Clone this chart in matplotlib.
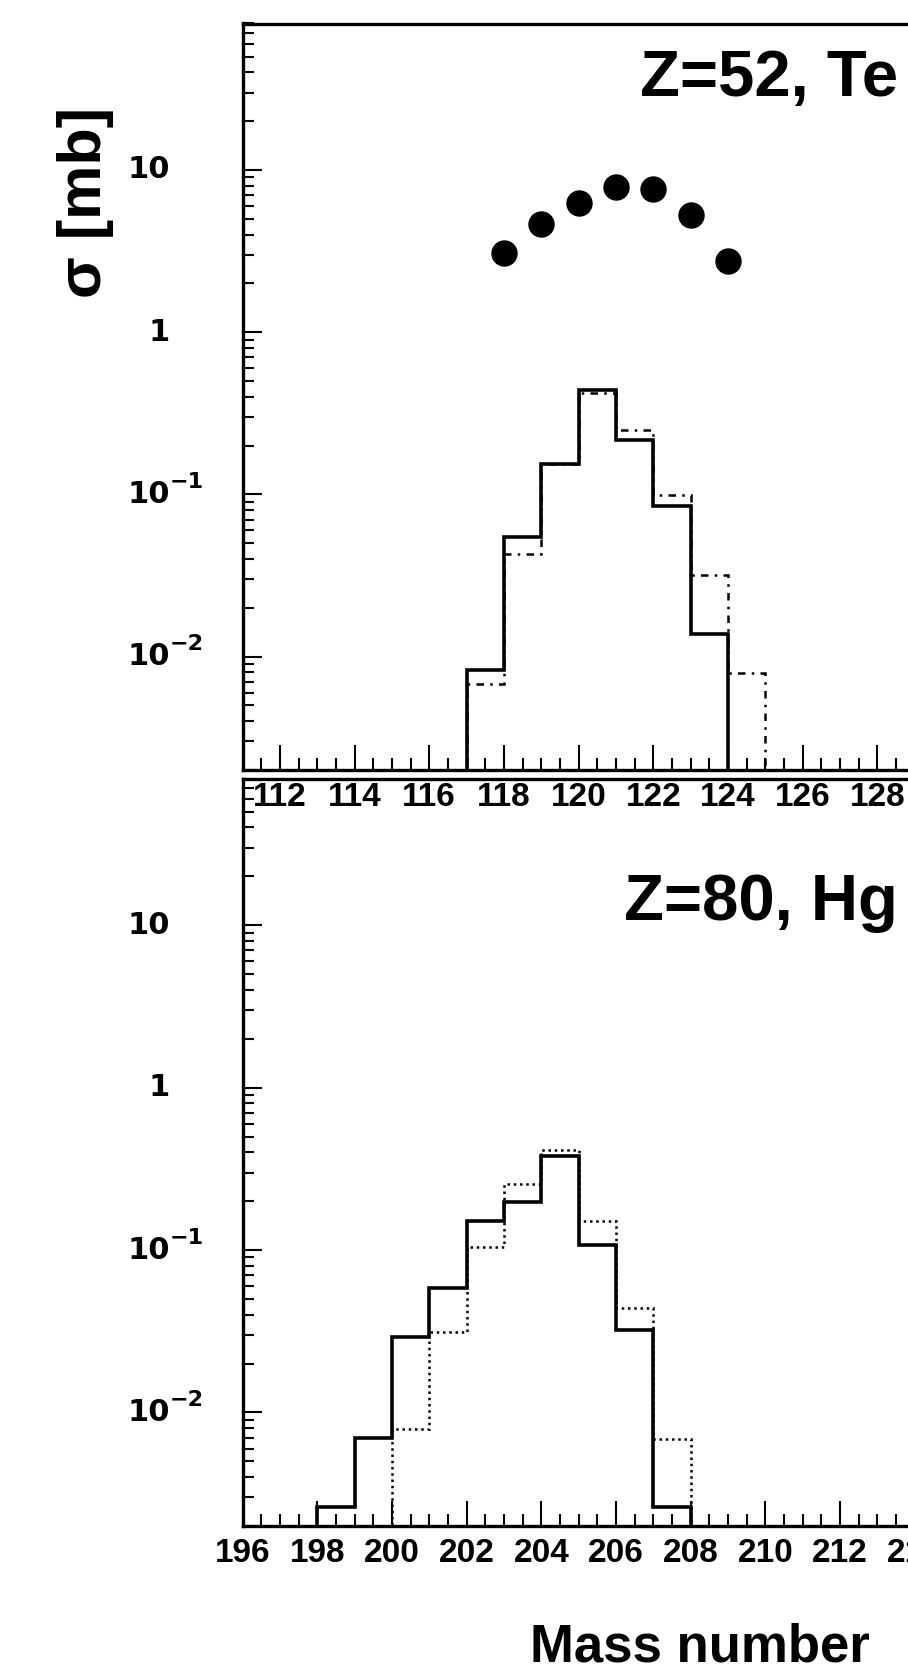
import numpy as np
import matplotlib.pyplot as plt
from matplotlib import transforms
from matplotlib.ticker import LogLocator, MultipleLocator, NullFormatter

plt.rcParams['font.family'] = ['Liberation Sans', 'DejaVu Sans']
plt.rcParams['font.weight'] = 'bold'

# Z=52, Te : measured points and two calculations (histograms)
te_mass = [118, 119, 120, 121, 122, 123, 124]
te_data = [3.07, 4.67, 6.29, 7.84, 7.59, 5.30, 2.74]
te_edges = [117, 118, 119, 120, 121, 122, 123, 124]
te_solid = [0.0083, 0.055, 0.153, 0.443, 0.216, 0.085, 0.0137]
te_alt_edges = [117, 118, 119, 120, 121, 122, 123, 124, 125]
te_alt = [0.0068, 0.043, 0.153, 0.42, 0.248, 0.099, 0.032, 0.0079]

# Z=80, Hg
hg_edges = [198, 199, 200, 201, 202, 203, 204, 205, 206, 207, 208]
hg_solid = [0.0026, 0.0070, 0.029, 0.058, 0.150, 0.198, 0.377, 0.107, 0.032, 0.0026]
hg_alt_edges = [200, 201, 202, 203, 204, 205, 206, 207, 208]
hg_alt = [0.0079, 0.0315, 0.104, 0.255, 0.414, 0.152, 0.044, 0.0069]

ytick_vals = [0.01, 0.1, 1, 10]
ytick_base = ['10', '10', '1', '10']
ytick_exp = ['\u22122', '\u22121', '', '']

W, H = 908, 1668
fig = plt.figure(figsize=(W / 100, H / 100), dpi=100)

px_unit = 37.35
left = 242.5 / W
width = 20 * px_unit / W
ax_top = fig.add_axes([left, 1 - 770 / H, width, (770 - 23.5) / H])
ax_bot = fig.add_axes([left, 1 - 1526 / H, width, (1526 - 778.5) / H])


def style_axis(ax, x0):
    ax.set_facecolor('none')
    ax.set_yscale('log')
    ax.set_ylim(2e-3, 80)
    ax.set_xlim(x0, x0 + 20)
    ax.xaxis.set_major_locator(MultipleLocator(2))
    ax.xaxis.set_minor_locator(MultipleLocator(0.5))
    ax.yaxis.set_major_locator(LogLocator(base=10, numticks=10))
    ax.yaxis.set_minor_locator(LogLocator(base=10, subs=np.arange(2, 10), numticks=20))
    ax.yaxis.set_major_formatter(NullFormatter())
    ax.yaxis.set_minor_formatter(NullFormatter())
    for s in ax.spines.values():
        s.set_linewidth(2.4)
    ax.tick_params(axis='x', which='major', direction='in', length=18, width=1.5,
                   labelsize=24, pad=9, top=False)
    ax.tick_params(axis='x', which='minor', direction='in', length=8.5, width=1.5, top=False)
    ax.tick_params(axis='y', which='major', direction='in', length=14, width=1.5, right=False)
    ax.tick_params(axis='y', which='minor', direction='in', length=8, width=1.5, right=False)
    for lab in ax.get_xticklabels():
        lab.set_fontweight('bold')
    # y labels in ROOT style: base right aligned, exponent sticking out
    ytr = ax.get_yaxis_transform()
    sup = transforms.offset_copy(ytr, fig=fig, x=0, y=9, units='points')
    for v, b, e in zip(ytick_vals, ytick_base, ytick_exp):
        ax.text(-0.097, v, b, transform=ytr, ha='right', va='center',
                fontsize=22, fontweight='bold', family='DejaVu Sans')
        if e:
            ax.text(-0.097, v, e, transform=sup, ha='left', va='center',
                    fontsize=16, fontweight='bold', family='DejaVu Sans')


style_axis(ax_top, 111)
style_axis(ax_bot, 196)

ax_top.stairs(te_alt, te_alt_edges, baseline=1e-6, color='black', lw=1.8,
              linestyle=(0, (3, 2.5, 1, 2.5)))
ax_top.stairs(te_solid, te_edges, baseline=1e-6, color='black', lw=2.6)
ax_top.plot(te_mass, te_data, 'o', color='black', ms=18, zorder=5)

ax_bot.stairs(hg_alt, hg_alt_edges, baseline=1e-6, color='black', lw=1.8,
              linestyle=(0, (1, 1.5)))
ax_bot.stairs(hg_solid, hg_edges, baseline=1e-6, color='black', lw=2.6)

ax_top.set_zorder(3)

fig.text(898 / W, 1 - 96 / H, 'Z=52, Te', ha='right', va='baseline', fontsize=47,
         fontweight='bold')
fig.text(898 / W, 1 - 920 / H, 'Z=80, Hg', ha='right', va='baseline', fontsize=47,
         fontweight='bold')
fig.text(85 / W, 1 - 203 / H, '\u03c3 [mb]', rotation=90, ha='center', va='center',
         fontsize=44, fontweight='bold')
fig.text(700 / W, 1 - 1661 / H, 'Mass number', ha='center', va='baseline', fontsize=38,
         fontweight='bold')

fig.savefig('out.png', dpi=100)
